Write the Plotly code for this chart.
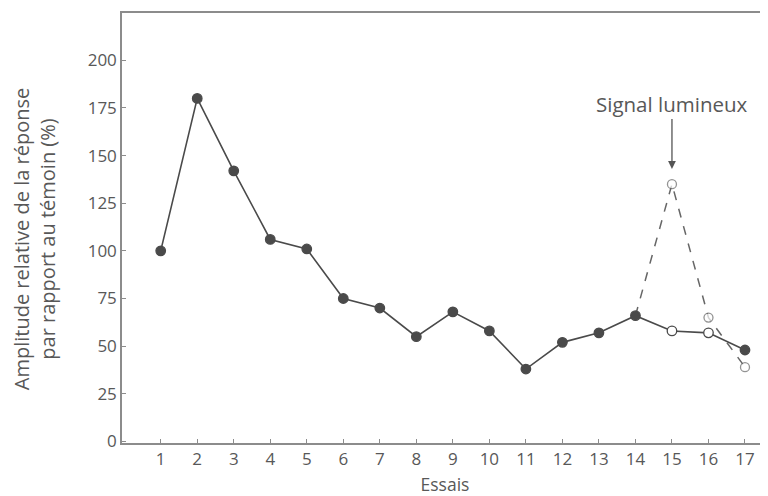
import plotly.graph_objects as go

essais = list(range(1, 18))
amplitude = [100, 180, 142, 106, 101, 75, 70, 55, 68, 58, 38, 52, 57, 66, 58, 57, 48]
open_points = [15, 16]  # open markers on the solid curve

signal_x = [14, 15, 16, 17]
signal_y = [66, 135, 65, 39]

tick_vals_y = [0, 25, 50, 75, 100, 125, 150, 175, 200]

line_col = "#4a4a4a"
text_col = "#585858"
axis_col = "#8c8c8c"
font_family = "Open Sans, Lato, sans-serif"

fig = go.Figure()

# dashed "signal lumineux" curve
fig.add_trace(go.Scatter(
    x=signal_x, y=signal_y, mode="lines+markers",
    line=dict(color="#666666", width=1.5, dash="dash"),
    marker=dict(size=[0, 9, 9, 9], color="white",
                line=dict(color="#666666", width=1.3)),
    showlegend=False, hoverinfo="skip"))

# main solid curve
fills = ["white" if e in open_points else line_col for e in essais]
fig.add_trace(go.Scatter(
    x=essais, y=amplitude, mode="lines+markers",
    line=dict(color=line_col, width=1.6),
    marker=dict(size=9.5, color=fills, line=dict(color=line_col, width=1.3)),
    showlegend=False))

fig.add_annotation(x=15, y=177, text="Signal lumineux", showarrow=False,
                   font=dict(size=20.5, color=text_col, family=font_family),
                   xref="x", yref="y")
fig.add_annotation(x=15, y=143, ax=15, ay=170, axref="x", ayref="y",
                   text="", showarrow=True, arrowhead=2, arrowsize=1.2,
                   arrowwidth=1.3, arrowcolor="#555555", xref="x", yref="y")

# y-axis title as a rotated annotation for exact placement
fig.add_annotation(xref="paper", yref="paper", x=0, y=0.474,
                   xanchor="center", yanchor="middle", xshift=-88,
                   text="Amplitude relative de la réponse<br>par rapport au témoin (%)",
                   textangle=-90, showarrow=False,
                   font=dict(size=20, color=text_col, family=font_family))

fig.update_layout(
    width=760, height=488,
    margin=dict(l=114, r=0, t=5, b=53),
    plot_bgcolor="white", paper_bgcolor="white",
    font=dict(family=font_family, size=17, color=text_col),
    xaxis=dict(range=[-0.06, 17.63], tickmode="array", tickvals=essais,
               ticktext=[str(e) for e in essais], automargin=False,
               showline=True, linecolor=axis_col, linewidth=1.5, mirror=True,
               ticks="inside", ticklen=4, tickcolor=axis_col,
               showgrid=False, zeroline=False,
               title=dict(text="Essais", standoff=13,
                          font=dict(size=17.5, color=text_col)),
               tickfont=dict(size=17, color=text_col)),
    yaxis=dict(range=[-0.8, 224.8], tickmode="array", tickvals=tick_vals_y,
               automargin=False,
               showline=True, linecolor=axis_col, linewidth=1.5,
               ticks="inside", ticklen=4, tickcolor=axis_col,
               showgrid=False, zeroline=False,
               tickfont=dict(size=17, color=text_col)),
)

fig.write_html("out.html")
